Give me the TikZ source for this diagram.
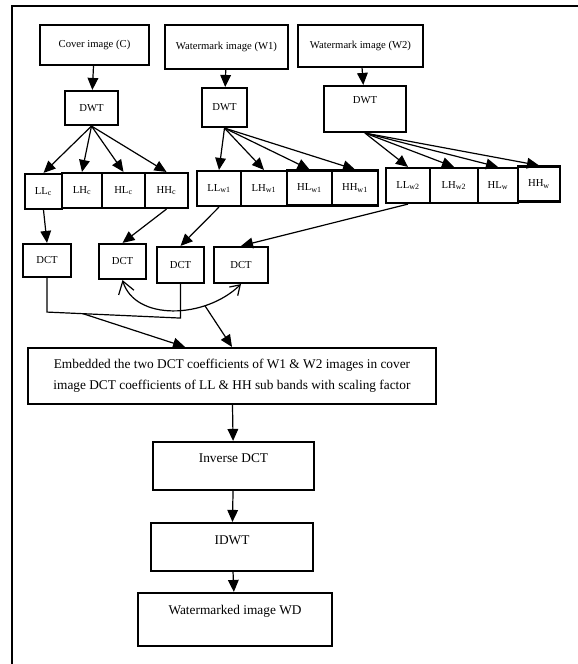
\documentclass[tikz,border=0pt]{standalone}
\usepackage{fontspec}
\setmainfont{Liberation Serif}
\usetikzlibrary{arrows.meta,calc}

\begin{document}
\begin{tikzpicture}[x=0.75pt, y=-0.75pt,
	blk/.style={draw, line width=1.6pt, inner sep=0pt, font=\fontsize{8}{10}\selectfont},
	big/.style={font=\fontsize{10}{12}\selectfont},
	sz/.style 2 args={minimum width=#1*0.75pt, minimum height=#2*0.75pt},
	toptext/.style={text height=6pt, text depth=#1},
	arr/.style={line width=0.9pt, -{Triangle[length=9pt,width=8pt]}}]
	\useasboundingbox (0,0) rectangle (578,664);
	\draw[line width=1.5pt] (12,664) -- (12,6) -- (578,6);
	% inputs and DWT
	\node[blk, sz={109}{40}] (cover) at (94.5,45) {Cover image (C)};
	\node[blk, sz={123}{44}] (wm1) at (226.5,47) {Watermark image (W1)};
	\node[blk, sz={125}{42}] (wm2) at (360.5,46) {Watermark image (W2)};
	\node[blk, sz={53}{34}] (dwtc) at (91.5,108) {DWT};
	\node[blk, sz={45}{39}] (dwt1) at (224.5,107.5) {DWT};
	\node[blk, sz={82}{46}, toptext=13.9pt] (dwt2) at (365,109) {DWT};
	% sub bands
	\foreach \n/\x/\y/\w/\t in {llc/43.5/191.5/37/{LL\textsubscript{c}}, lhc/82/190.5/40/{LH\textsubscript{c}},
		hlc/123.5/190.5/43/{HL\textsubscript{c}}, hhc/166.5/190.5/43/{HH\textsubscript{c}},
		llw1/219/188.5/44/{LL\textsubscript{w1}}, lhw1/264/188.5/46/{LH\textsubscript{w1}},
		hlw1/309.5/188/45/{HL\textsubscript{w1}}, hhw1/355/188/46/{HH\textsubscript{w1}},
		llw2/408/185.5/44/{LL\textsubscript{w2}}, lhw2/454/185.5/48/{LH\textsubscript{w2}},
		hlw2/498/185.5/40/{HL\textsubscript{w}}, hhw2/539/184/42/{HH\textsubscript{w}}}
		\node[blk, sz={\w}{35}] (\n) at (\x,\y) {\t};
	% DCT
	\node[blk, sz={48}{33}] (dct1) at (47,260.5) {DCT};
	\node[blk, sz={47}{35}] (dct2) at (122.5,261.5) {DCT};
	\node[blk, sz={47}{36}] (dct3) at (180.5,265) {DCT};
	\node[blk, sz={54}{36}] (dct4) at (241,265) {DCT};
	% embedding and inverse
	\node[blk, sz={408}{56}, align=center, font=\fontsize{10}{15.5}\selectfont] (embed) at (232,376)
		{Embedded the two DCT coefficients of W1 \& W2 images in cover\\image DCT coefficients of LL \& HH sub bands with scaling factor};
	\node[blk, big, sz={161}{48}, toptext=11.4pt] (idct) at (233.5,466) {Inverse DCT};
	\node[blk, big, sz={162}{48}, toptext=9.9pt] (idwt) at (232,547) {IDWT};
	\node[blk, big, sz={194}{53}, toptext=13.6pt] (wd) at (235,619.5) {Watermarked image WD};

	\draw[arr] (cover) -- (dwtc);
	\draw[arr] (wm1) -- (dwt1);
	\draw[arr] (wm2) -- (dwt2);
	\foreach \s in {llc,lhc,hlc,hhc} \draw[arr] (dwtc.south) -- (\s.north);
	\foreach \s in {llw1,lhw1,hlw1,hhw1} \draw[arr] (dwt1.south) -- (\s.north);
	\foreach \s in {llw2,lhw2,hlw2,hhw2} \draw[arr] (dwt2.south) -- (\s.north);
	\path[arr]
		(llc.south) edge (dct1.north)
		(hhc.south) edge (dct2.north)
		(llw1.south) edge (dct3.north)
		(llw2.south) edge (dct4.north);
	\draw[line width=0.9pt] (dct1.south) -- ++(0,34) coordinate (b1) -- ($(dct3.south)+(0,34)$) coordinate (b3) -- (dct3.south);
	\draw[line width=0.9pt, {Straight Barb[length=9pt,width=12pt]}-{Straight Barb[length=7pt,width=9pt]}]
		(dct2.south) .. controls +(12.5,41) and +(-36,35) .. (dct4.south) coordinate[pos=0.72] (cv);
	\draw[arr] ($(b1)!0.27!(b3)$) -- ($(embed.north)+(-47,0)$);
	\draw[arr] (cv) -- (embed.north);
	\draw[arr] (embed) -- (idct);
	\draw[arr] (idct) -- (idwt);
	\draw[arr] (idwt) -- (wd);
\end{tikzpicture}
\end{document}
